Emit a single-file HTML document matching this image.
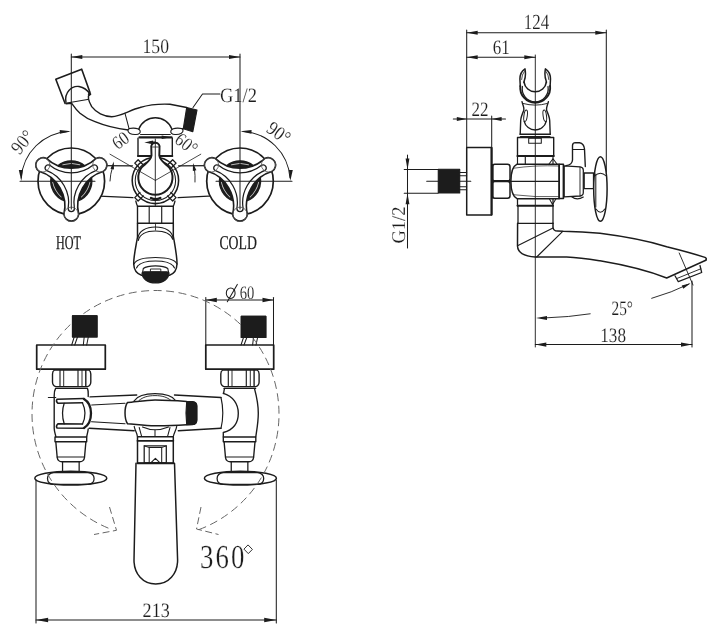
<!DOCTYPE html>
<html><head><meta charset="utf-8"><title>Faucet drawing</title>
<style>
html,body{margin:0;padding:0;background:#fff}
body{width:720px;height:638px;overflow:hidden}
svg{display:block;filter:grayscale(1) blur(0.35px)}
text{font-family:"Liberation Serif",serif;fill:#1c1c1c;-webkit-font-smoothing:antialiased;text-rendering:geometricPrecision}
</style></head><body>
<svg width="720" height="638" viewBox="0 0 720 638" stroke="#1c1c1c" fill="none" stroke-linecap="round" stroke-linejoin="round">
<rect x="0" y="0" width="720" height="638" fill="#fff" stroke="none"/>
<g opacity="0.999">
<defs>
<g id="handle">
<circle cx="0" cy="0" r="33.3" stroke-width="1.7" fill="#fff"/>
<g transform="rotate(0)">
<path d="M-13.5,-15.6 A21,21 0 0 1 13.5,-15.6 A36.3,36.3 0 0 1 -13.5,-15.6 Z" fill="#1c1c1c" stroke-width="1.3"/>
<path d="M-8.5,-16.6 Q0,-19.3 8.5,-16.6" stroke="#ccc" stroke-width="0.9"/>
</g>
<g transform="rotate(120)">
<path d="M-13.5,-15.6 A21,21 0 0 1 13.5,-15.6 A36.3,36.3 0 0 1 -13.5,-15.6 Z" fill="#1c1c1c" stroke-width="1.3"/>
<path d="M-8.5,-16.6 Q0,-19.3 8.5,-16.6" stroke="#ccc" stroke-width="0.9"/>
</g>
<g transform="rotate(240)">
<path d="M-13.5,-15.6 A21,21 0 0 1 13.5,-15.6 A36.3,36.3 0 0 1 -13.5,-15.6 Z" fill="#1c1c1c" stroke-width="1.3"/>
<path d="M-8.5,-16.6 Q0,-19.3 8.5,-16.6" stroke="#ccc" stroke-width="0.9"/>
</g>
<path d="M-24.9,-22.9 A36.3,36.3 0 0 0 24.9,-22.9 A7.4,7.4 0 0 1 32.28,-10.11 A36.3,36.3 0 0 0 7.38,33 A7.4,7.4 0 0 1 -7.38,33 A36.3,36.3 0 0 0 -32.28,-10.11 A7.4,7.4 0 0 1 -24.9,-22.9 Z" fill="#fff" stroke-width="1.6"/>
<path d="M-21.9,-16.2 A34.6,34.6 0 0 0 21.9,-16.2 A3.1,3.1 0 0 1 25,-10.9 A34.6,34.6 0 0 0 3.1,27.1 A3.1,3.1 0 0 1 -3.1,27.1 A34.6,34.6 0 0 0 -25,-10.9 A3.1,3.1 0 0 1 -21.9,-16.2 Z" stroke-width="1.25"/>
<circle cx="-28.58" cy="-16.50" r="7.2" fill="none" stroke="#555" stroke-width="0.8"/>
<circle cx="28.58" cy="-16.50" r="7.2" fill="none" stroke="#555" stroke-width="0.8"/>
<circle cx="0.00" cy="33.00" r="7.2" fill="none" stroke="#555" stroke-width="0.8"/>
</g>
</defs>
<line x1="100" y1="165.6" x2="132.5" y2="165.8" stroke-width="1.26" />
<line x1="88" y1="195.6" x2="133" y2="197.6" stroke-width="1.26" />
<line x1="178.5" y1="165.8" x2="212" y2="165.6" stroke-width="1.26" />
<line x1="178" y1="197.6" x2="224" y2="195.4" stroke-width="1.26" />
<use href="#handle" x="71.3" y="181.3"/>
<use href="#handle" x="240" y="181.3"/>
<path d="M89.7,93.7 C87.5,96 88.5,101 91.7,106.7 C96,112.5 104,116.5 111.7,116.7 C121,116.5 130,110 140,107.5 C150,104.6 160,103.8 170,104.3 L186.7,107.5" stroke-width="1.38" fill="none" />
<path d="M66,103.8 L71.7,103.3 C75,108 77,110.5 80,113.3 C85,117.5 90,120 95,121.7 C103,125 115,128.5 128.3,130" stroke-width="1.38" fill="none" />
<line x1="125" y1="113.3" x2="129.2" y2="129.2" stroke-width="1.03" />
<path d="M174.5,130 L183.3,128.7" stroke-width="1.38" fill="none" />
<path d="M186.7,107.5 L197,110 L192.8,131.7 L183.3,128.7 Z" stroke-width="1.15" fill="#1c1c1c" />
<path d="M65,103.3 L55.8,79.2 L81.7,69.2 L90,92.5" stroke-width="1.61" fill="none" />
<path d="M66,102.5 C64,92 72,85.5 79,86.5 C84,87.5 88,91 89.7,93.7" stroke-width="1.38" fill="none" />
<path d="M67,103 L87.5,99.5" stroke-width="1.26" fill="none" />
<circle cx="89.5" cy="94.2" r="1.2" stroke-width="0.92" fill="#1c1c1c" />
<path d="M138.7,129.2 A17.8,17.8 0 0 1 172,129.2" stroke-width="1.38" fill="none" />
<path d="M128,130 C129,127.5 138,127.5 140,130.5 C141,133 139,134.5 136,134.5 C131,134.8 127.5,133 128,130 Z" stroke-width="1.15" fill="#fff" />
<path d="M183,130 C182,127.5 173,127.5 171,130.5 C170,133 172,134.5 175,134.5 C180,134.8 183.5,133 183,130 Z" stroke-width="1.15" fill="#fff" />
<line x1="140.5" y1="134.6" x2="170.3" y2="134.6" stroke-width="1.03" />
<line x1="139.5" y1="137.4" x2="171.5" y2="137.4" stroke-width="2.30" />
<path d="M138,138.3 L138,156 L172.3,156 L172.3,138.3" stroke-width="1.38" fill="none" />
<line x1="138" y1="156" x2="172.3" y2="156" stroke-width="2.07" />
<polygon points="144.30,142.40 153.10,140.48 153.10,144.32" fill="#1c1c1c" stroke="none"/>
<line x1="150" y1="142.4" x2="155" y2="142.4" stroke-width="1.84" />
<polygon points="170.50,137.20 161.70,138.88 161.70,135.52" fill="#1c1c1c" stroke="none"/>
<circle cx="155.4" cy="180.4" r="23.2" stroke-width="1.55" fill="none" />
<circle cx="155.4" cy="180.4" r="20.2" stroke-width="1.03" fill="none" />
<path d="M170.89,192.49 L176.05,197.65 L172.65,201.05 L167.49,195.89" stroke-width="1.32" fill="none" />
<path d="M143.31,195.89 L138.15,201.05 L134.75,197.65 L139.91,192.49" stroke-width="1.32" fill="none" />
<path d="M139.91,168.31 L134.75,163.15 L138.15,159.75 L143.31,164.91" stroke-width="1.32" fill="none" />
<path d="M167.49,164.91 L172.65,159.75 L176.05,163.15 L170.89,168.31" stroke-width="1.32" fill="none" />
<path d="M151.3,148.3 A4.3,4.3 0 1 1 159.5,148.3 L159.3,155.5 C159.8,160.5 164.5,163 169,167.2 A17.1,17.1 0 1 1 141.8,167.2 C146.3,163 151,160.5 151.5,155.5 Z" stroke-width="1.95" fill="#fff" />
<line x1="152" y1="147" x2="158.6" y2="147" stroke-width="0.80" />
<line x1="110" y1="154.2" x2="155.4" y2="180.4" stroke-width="0.80" />
<line x1="200.8" y1="154.2" x2="155.4" y2="180.4" stroke-width="0.80" />
<path d="M151,198 Q155.5,200.5 160.3,198" stroke-width="2.53" fill="none" />
<line x1="155.3" y1="139" x2="155.3" y2="206" stroke-width="0.92" />
<polygon points="113.80,161.50 113.96,169.41 110.44,168.66" fill="#1c1c1c" stroke="none"/>
<path d="M112.3,168 Q110.3,174 110,181" stroke-width="0.92" fill="none" />
<polygon points="193.00,163.00 196.36,170.16 192.84,170.91" fill="#1c1c1c" stroke="none"/>
<path d="M194.5,169.5 Q195.3,175 195,182" stroke-width="0.92" fill="none" />
<path d="M135.8,201 Q136.5,204 137.5,206.3 M175,201 Q174.3,204 173.3,206.3" stroke-width="1.26" fill="none" />
<rect x="137.5" y="206.3" width="35.80" height="17.00" rx="0" stroke-width="1.38" fill="none" />
<line x1="149.2" y1="206.3" x2="149.2" y2="223.3" stroke-width="1.15" />
<line x1="161.7" y1="206.3" x2="161.7" y2="223.3" stroke-width="1.15" />
<path d="M137.5,223.3 L137.5,237 C136,246 133.7,256 133.7,263.3 C133.7,270 136.5,273.5 141.5,275.3" stroke-width="1.49" fill="none" />
<path d="M173.3,223.3 L173.3,236 C175,246 177,256 177,263.3 C177,270 174.5,273.5 169.5,275.3" stroke-width="1.49" fill="none" />
<path d="M137.8,238.5 C138.5,231 146,227 155.5,227 C165,227 172.5,231 173.2,238.5" stroke-width="1.15" fill="none" />
<path d="M138.2,240.5 C140,234 147,231 155.5,231 C164,231 171,234 173,239.5" stroke-width="1.15" fill="none" />
<line x1="155.5" y1="223.3" x2="155.5" y2="230" stroke-width="0.80" />
<path d="M134,264 C136,259.5 145,257.5 155.5,257.5 C166,257.5 175,259.5 177,264" stroke-width="1.15" fill="none" />
<path d="M136.5,268 C138.5,263 146,261 155.5,261 C165,261 172.5,263 174.5,268" stroke-width="1.15" fill="none" />
<path d="M142.5,273 L143.3,268.5 C146,266.3 151,265.8 155.5,265.8 C160,265.8 165,266.3 167.8,268.5 L168.7,273" stroke-width="1.15" fill="none" />
<rect x="150.8" y="269" width="10.00" height="3.00" rx="0" stroke-width="0.92" fill="none" />
<path d="M142,273 C142,271.5 146,271.8 155.5,271.8 C165,271.8 169,271.5 169,273 C169,279 163,283 155.5,283 C148,283 142,279 142,273 Z" stroke-width="1.15" fill="#1c1c1c" />
<line x1="71.3" y1="54" x2="71.3" y2="209" stroke-width="1.03" />
<line x1="240" y1="54" x2="240" y2="209" stroke-width="1.03" />
<line x1="71.3" y1="57" x2="240" y2="57" stroke-width="1.03" />
<polygon points="71.30,57.00 82.30,54.96 82.30,59.04" fill="#1c1c1c" stroke="none"/>
<polygon points="240.00,57.00 229.00,59.04 229.00,54.96" fill="#1c1c1c" stroke="none"/>
<text x="142.5" y="53" font-size="20.5" textLength="26.5" lengthAdjust="spacingAndGlyphs" text-anchor="start" stroke="#fff" stroke-width="0.15" paint-order="fill stroke" >150</text>
<line x1="20" y1="181.3" x2="95" y2="181.3" stroke-width="1.03" />
<line x1="216" y1="181.3" x2="292" y2="181.3" stroke-width="1.03" />
<path d="M68.5,131.4 A50,50 0 0 0 21.3,178" stroke-width="1.03" fill="none" />
<polygon points="70.80,131.30 59.92,133.79 59.71,129.96" fill="#1c1c1c" stroke="none"/>
<polygon points="21.30,181.00 18.81,170.12 22.64,169.91" fill="#1c1c1c" stroke="none"/>
<path d="M242.8,131.4 A50,50 0 0 1 290,178" stroke-width="1.03" fill="none" />
<polygon points="240.50,131.30 251.59,129.96 251.38,133.79" fill="#1c1c1c" stroke="none"/>
<polygon points="290.30,181.00 288.96,169.91 292.79,170.12" fill="#1c1c1c" stroke="none"/>
<text x="23.5" y="148" font-size="19.5" transform="rotate(-50 23.5 143)" text-anchor="middle" stroke="#fff" stroke-width="0.15" paint-order="fill stroke" textLength="24" lengthAdjust="spacingAndGlyphs">90°</text>
<text x="278" y="139" font-size="19.5" transform="rotate(36 278 134)" text-anchor="middle" stroke="#fff" stroke-width="0.15" paint-order="fill stroke" textLength="24" lengthAdjust="spacingAndGlyphs">90°</text>
<text x="121" y="146.5" font-size="19" transform="rotate(-36 121 141)" text-anchor="middle" stroke="#fff" stroke-width="0.15" paint-order="fill stroke" textLength="16" lengthAdjust="spacingAndGlyphs">60</text>
<text x="186" y="150" font-size="19" transform="rotate(38 186 144.5)" text-anchor="middle" stroke="#fff" stroke-width="0.15" paint-order="fill stroke" textLength="23" lengthAdjust="spacingAndGlyphs">60°</text>
<path d="M193,107.5 L202.5,94 L220,94" stroke-width="1.03" fill="none" />
<text x="220" y="102" font-size="20.5" textLength="37" lengthAdjust="spacingAndGlyphs" text-anchor="start" stroke="#fff" stroke-width="0.15" paint-order="fill stroke" >G1/2</text>
<text x="56" y="249" font-size="19.5" textLength="25" lengthAdjust="spacingAndGlyphs" text-anchor="start" stroke="#fff" stroke-width="0.15" paint-order="fill stroke" style="stroke:#1c1c1c;stroke-width:0.25">HOT</text>
<text x="219.4" y="249.3" font-size="19.5" textLength="37.5" lengthAdjust="spacingAndGlyphs" text-anchor="start" stroke="#fff" stroke-width="0.15" paint-order="fill stroke" style="stroke:#1c1c1c;stroke-width:0.25">COLD</text>
<line x1="466.7" y1="30" x2="466.7" y2="147.5" stroke-width="1.03" />
<line x1="606.3" y1="30" x2="606.3" y2="172" stroke-width="1.03" />
<line x1="466.7" y1="32.7" x2="606.3" y2="32.7" stroke-width="1.03" />
<polygon points="466.70,32.70 477.70,30.66 477.70,34.74" fill="#1c1c1c" stroke="none"/>
<polygon points="606.30,32.70 595.30,34.74 595.30,30.66" fill="#1c1c1c" stroke="none"/>
<text x="523.8" y="29.3" font-size="21.5" textLength="25.4" lengthAdjust="spacingAndGlyphs" text-anchor="start" stroke="#fff" stroke-width="0.15" paint-order="fill stroke" >124</text>
<line x1="466.7" y1="57.2" x2="535.3" y2="57.2" stroke-width="1.03" />
<polygon points="466.70,57.20 477.70,55.16 477.70,59.24" fill="#1c1c1c" stroke="none"/>
<polygon points="535.30,57.20 524.30,59.24 524.30,55.16" fill="#1c1c1c" stroke="none"/>
<text x="492.8" y="53.6" font-size="20.5" textLength="17" lengthAdjust="spacingAndGlyphs" text-anchor="start" stroke="#fff" stroke-width="0.15" paint-order="fill stroke" >61</text>
<line x1="491.7" y1="116" x2="491.7" y2="147.5" stroke-width="1.03" />
<line x1="453.3" y1="119" x2="505.5" y2="119" stroke-width="1.03" />
<polygon points="466.70,119.00 456.80,120.92 456.80,117.08" fill="#1c1c1c" stroke="none"/>
<polygon points="491.70,119.00 501.60,117.08 501.60,120.92" fill="#1c1c1c" stroke="none"/>
<text x="471.4" y="115.6" font-size="20.5" textLength="17" lengthAdjust="spacingAndGlyphs" text-anchor="start" stroke="#fff" stroke-width="0.15" paint-order="fill stroke" >22</text>
<rect x="466.7" y="147.5" width="25.00" height="67.50" rx="0" stroke-width="1.49" fill="#fff" />
<line x1="491.5" y1="148" x2="491.5" y2="214.5" stroke-width="2.07" />
<rect x="438.3" y="169.2" width="21.40" height="23.80" rx="0" stroke-width="1.15" fill="#1c1c1c" />
<line x1="459.7" y1="172.5" x2="466.7" y2="172.5" stroke-width="1.03" />
<line x1="459.7" y1="175.8" x2="466.7" y2="175.8" stroke-width="1.03" />
<line x1="459.7" y1="186.7" x2="466.7" y2="186.7" stroke-width="1.03" />
<line x1="459.7" y1="189.7" x2="466.7" y2="189.7" stroke-width="1.03" />
<line x1="426.7" y1="181.2" x2="470.8" y2="181.2" stroke-width="1.03" />
<line x1="404.2" y1="169.5" x2="438" y2="169.5" stroke-width="1.03" />
<line x1="404.2" y1="193.3" x2="438" y2="193.3" stroke-width="1.03" />
<line x1="407.5" y1="155" x2="407.5" y2="248" stroke-width="1.03" />
<polygon points="407.50,169.50 405.58,158.50 409.42,158.50" fill="#1c1c1c" stroke="none"/>
<polygon points="407.50,193.30 409.42,204.30 405.58,204.30" fill="#1c1c1c" stroke="none"/>
<text x="0" y="0" font-size="19.5" textLength="37" lengthAdjust="spacingAndGlyphs" transform="translate(405.4 243.6) rotate(-90)" text-anchor="start" stroke="#fff" stroke-width="0.15" paint-order="fill stroke" x="0" y="0">G1/2</text>
<rect x="492.3" y="164.2" width="17.70" height="17.00" rx="2.5" stroke-width="1.49" fill="#fff" />
<rect x="492.3" y="181.2" width="17.70" height="17.10" rx="2.5" stroke-width="1.49" fill="#fff" />
<line x1="492.5" y1="181.2" x2="510" y2="181.2" stroke-width="2.30" />
<line x1="492.6" y1="165" x2="492.6" y2="197.5" stroke-width="2.07" />
<rect x="517.5" y="137.5" width="36.20" height="18.80" rx="0" stroke-width="1.38" fill="#fff" />
<line x1="517.5" y1="156" x2="553.7" y2="156" stroke-width="2.07" />
<rect x="528.7" y="138.2" width="12.60" height="5.10" rx="0" stroke-width="1.03" fill="none" />
<path d="M517.5,156.3 L517.5,165 M553,156.3 L553,164.2 M525.3,156.3 L525.3,164.2" stroke-width="1.15" fill="none" />
<path d="M549,164 L553,158.8 L557,164" stroke-width="1.03" fill="none" />
<path d="M517,164.2 L559.2,164.2 L559.2,198.7 L517,198.7 C512.5,196.5 510.9,190 510.9,181.3 C510.9,173 512.5,166.5 517,164.2 Z" stroke-width="1.49" fill="#fff" />
<line x1="511" y1="181.3" x2="559.2" y2="181.3" stroke-width="1.26" />
<path d="M513,168.3 Q535,165 559,166" stroke-width="0.69" fill="none" />
<path d="M513,194.7 Q535,197.5 559,196.6" stroke-width="0.69" fill="none" />
<rect x="559.2" y="164.2" width="4.20" height="34.30" rx="0" stroke-width="1.61" fill="#fff" />
<path d="M564.2,165.8 L580,166.8 Q583.3,167.3 583.3,170 L583.3,192.5 Q583.3,195.6 580,196 L564.2,196.8 Z" stroke-width="1.26" fill="#fff" />
<line x1="580" y1="167" x2="580" y2="196" stroke-width="0.92" />
<path d="M566,165.6 C571,165 572.3,163 572.5,160 L572.5,145.5 Q572.5,142.6 575.5,142.6 L579.5,142.7 Q584,143.5 584.5,149 L585.3,166.5" stroke-width="1.38" fill="none" />
<line x1="572.7" y1="149.4" x2="584.3" y2="149.4" stroke-width="1.03" />
<path d="M571.7,196.7 Q577,201 583.3,197" stroke-width="1.15" fill="none" />
<rect x="584.2" y="173" width="9.30" height="15.70" rx="0" stroke-width="1.26" fill="#fff" />
<ellipse cx="600.4" cy="189" rx="6.7" ry="32.3" stroke-width="1.49" fill="#fff" />
<path d="M594.6,176 Q600.4,170.5 606.2,176" stroke-width="1.03" fill="none" />
<path d="M596,209 Q600.4,215.5 604.8,209" stroke-width="1.03" fill="none" />
<path d="M595.8,174 L595.8,207" stroke-width="1.03" fill="none" />
<path d="M517.5,198.7 L517.5,205.8 M553,198.7 L553,205.8" stroke-width="1.26" fill="none" />
<line x1="517.5" y1="205.8" x2="553" y2="205.8" stroke-width="1.95" />
<path d="M518,205.8 L518,223.3 M553,205.8 L553,223.3" stroke-width="1.26" fill="none" />
<line x1="518" y1="223.3" x2="553" y2="223.3" stroke-width="1.15" />
<path d="M549.5,199 L552.5,204.5 L556,198.8" stroke-width="1.03" fill="none" />
<path d="M517.6,223.3 L517.5,246 C517.8,252.5 524,256.3 535.3,257 L566.7,257 C580,257.5 592,259.5 600,260.8 C625,265 650,271.5 666.7,278 L705.8,260.3" stroke-width="1.49" fill="none" />
<path d="M553,223.3 L553,227.5 C553.3,230 555,231 557.5,231 L563.3,231.3 C578,231.5 590,232.3 600,233.3 C625,236.5 650,241.5 666.7,246.7 C680,250 695,254 705,257.4 Q707.2,258.5 705.8,260.3" stroke-width="1.49" fill="none" />
<line x1="517.5" y1="245.8" x2="553" y2="228" stroke-width="1.15" />
<line x1="536.7" y1="257" x2="562.5" y2="231.7" stroke-width="1.15" />
<path d="M675,275.8 L678.3,281.7 L701.7,272.5 L700,265.5" stroke-width="1.26" fill="none" />
<line x1="676.6" y1="278.6" x2="700.8" y2="268.8" stroke-width="0.92" />
<line x1="679.2" y1="253" x2="693" y2="285" stroke-width="0.92" />
<line x1="692" y1="281" x2="692" y2="347" stroke-width="1.03" />
<path d="M651.7,298.3 Q672,292.5 689,284" stroke-width="0.92" fill="none" />
<polygon points="690.50,283.30 683.29,288.65 681.76,285.39" fill="#1c1c1c" stroke="none"/>
<path d="M547,317.8 Q568,317.2 590.2,313.8" stroke-width="0.92" fill="none" />
<polygon points="536.00,318.00 547.00,316.08 547.00,319.92" fill="#1c1c1c" stroke="none"/>
<text x="611.5" y="315" font-size="20.5" textLength="21.5" lengthAdjust="spacingAndGlyphs" text-anchor="start" stroke="#fff" stroke-width="0.15" paint-order="fill stroke" >25°</text>
<line x1="535.3" y1="344.6" x2="692" y2="344.6" stroke-width="1.03" />
<polygon points="535.30,344.60 546.30,342.56 546.30,346.64" fill="#1c1c1c" stroke="none"/>
<polygon points="692.00,344.60 681.00,346.64 681.00,342.56" fill="#1c1c1c" stroke="none"/>
<text x="600.3" y="342.2" font-size="20.5" textLength="25.7" lengthAdjust="spacingAndGlyphs" text-anchor="start" stroke="#fff" stroke-width="0.15" paint-order="fill stroke" >138</text>
<path d="M520,134.2 L550.4,134.2 M520.5,136.6 L549.9,136.6" stroke-width="1.38" fill="none" />
<path d="M520.3,86 A15,15 0 1 0 550.1,86" stroke-width="1.84" fill="none" />
<path d="M522.4,86.5 A13,13 0 1 0 548,86.5" stroke-width="1.26" fill="none" />
<path d="M520.3,86.5 L519.9,79 C519.9,75.5 521.5,71 525,68.8 C525.8,73 525.3,78 524.2,81 L524,82.5" stroke-width="1.49" fill="none" />
<path d="M550.1,86.5 L550.5,79 C550.5,75.5 548.9,71 545.4,68.8 C544.6,73 545.1,78 546.2,81 L546.4,82.5" stroke-width="1.49" fill="none" />
<path d="M521.6,79.5 Q521.8,74.5 524.3,71.5" stroke-width="0.80" fill="none" />
<path d="M548.8,79.5 Q548.6,74.5 546.1,71.5" stroke-width="0.80" fill="none" />
<path d="M524,82 A11.3,11.3 0 0 0 546.4,82" stroke-width="1.61" fill="none" />
<path d="M522,101.6 C523,106 524.6,108 523.8,110.4 C522,114.5 520.8,118 520.7,120.5 L520.2,134" stroke-width="1.38" fill="none" />
<path d="M548.4,101.6 C547.4,106 545.8,108 546.6,110.4 C548.4,114.5 549.6,118 549.7,120.5 L550.2,134" stroke-width="1.38" fill="none" />
<ellipse cx="525.6" cy="115.8" rx="1.7" ry="5.8" stroke-width="1.0" transform="rotate(8 525.6 115.8)"/>
<ellipse cx="544.8" cy="115.8" rx="1.7" ry="5.8" stroke-width="1.0" transform="rotate(-8 544.8 115.8)"/>
<path d="M524.2,121.3 A11.3,11.3 0 0 0 546.2,121.3" stroke-width="1.38" fill="none" />
<path d="M523.2,103.5 Q535.2,106.8 547.2,103.5" stroke-width="0.92" fill="none" />
<line x1="535.3" y1="55" x2="535.3" y2="347" stroke-width="0.92" />
<g id="bl">
<rect x="36.7" y="345" width="68.60" height="24.20" rx="0" stroke-width="1.72" fill="#fff" />
<rect x="205.8" y="345" width="67.90" height="24.20" rx="0" stroke-width="1.72" fill="#fff" />
<rect x="72.5" y="315.8" width="24.50" height="21.20" rx="0" stroke-width="1.15" fill="#1c1c1c" />
<rect x="241.3" y="316.3" width="24.50" height="21.20" rx="0" stroke-width="1.15" fill="#1c1c1c" />
<line x1="74.2" y1="337" x2="71.7" y2="345" stroke-width="1.03" />
<line x1="77.5" y1="337" x2="74.7" y2="345" stroke-width="1.03" />
<line x1="84.2" y1="337" x2="83.3" y2="345" stroke-width="1.03" />
<line x1="88.3" y1="337" x2="86.7" y2="345" stroke-width="1.03" />
<line x1="243.5" y1="337.5" x2="241" y2="345" stroke-width="1.03" />
<line x1="246.8" y1="337.5" x2="244" y2="345" stroke-width="1.03" />
<line x1="253.5" y1="337.5" x2="252.6" y2="345" stroke-width="1.03" />
<line x1="257.6" y1="337.5" x2="256" y2="345" stroke-width="1.03" />
<path d="M54.5,370 L88.8,370 Q90.8,371 90.8,374 L90.8,382 Q90.8,385.5 87.5,386.7 L55.8,386.7 Q52.5,385.5 52.5,382 L52.5,374 Q52.5,371 54.5,370 Z" stroke-width="1.38" fill="#fff" />
<line x1="60.0" y1="370.5" x2="60.0" y2="386" stroke-width="1.15" />
<line x1="63.7" y1="370.5" x2="63.7" y2="386" stroke-width="0.92" />
<line x1="78.0" y1="370.5" x2="78.0" y2="386" stroke-width="1.15" />
<line x1="82.0" y1="370.5" x2="82.0" y2="386" stroke-width="0.92" />
<line x1="85.8" y1="370.5" x2="85.8" y2="386" stroke-width="1.38" />
<path d="M55.5,388.6 L87.5,388.6" stroke-width="1.03" fill="none" />
<path d="M222.8,370 L257.1,370 Q259.1,371 259.1,374 L259.1,382 Q259.1,385.5 255.8,386.7 L224.10000000000002,386.7 Q220.8,385.5 220.8,382 L220.8,374 Q220.8,371 222.8,370 Z" stroke-width="1.38" fill="#fff" />
<line x1="228.3" y1="370.5" x2="228.3" y2="386" stroke-width="1.15" />
<line x1="232.0" y1="370.5" x2="232.0" y2="386" stroke-width="0.92" />
<line x1="246.3" y1="370.5" x2="246.3" y2="386" stroke-width="1.15" />
<line x1="250.3" y1="370.5" x2="250.3" y2="386" stroke-width="0.92" />
<line x1="254.10000000000002" y1="370.5" x2="254.10000000000002" y2="386" stroke-width="1.38" />
<path d="M223.8,388.6 L255.8,388.6" stroke-width="1.03" fill="none" />
<path d="M90,396.9 L136.7,395 M174.5,395 L221,397.5" stroke-width="1.38" fill="none" />
<path d="M91.7,405 L125,403.3" stroke-width="1.15" fill="none" />
<path d="M91.7,421.7 L125,423.7" stroke-width="1.15" fill="none" />
<path d="M89.2,428.3 L134.2,430.8 M178.3,430.8 L221,428.3" stroke-width="1.38" fill="none" />
<path d="M134,401 C137,396.5 145,393.7 155,393.7 C165,393.7 173,396.5 176,401" stroke-width="1.26" fill="none" />
<path d="M139,400.5 C143,397 148,395.6 155,395.6 C162,395.6 167,397 171,400.5" stroke-width="0.92" fill="none" />
<path d="M127.5,402.5 C135,402 145,400.2 155,400 C165,400 178,400.8 186.7,401.5 L192.5,401.7 Q196.7,402 196.7,406 L196.7,420 Q196.7,424.3 192.5,424.5 L186.7,424.7 C178,425.3 165,425.9 155,425.8 C145,425.6 135,424.2 127.5,423.7 C124.2,419 124.2,407 127.5,402.5 Z" stroke-width="1.49" fill="#fff" />
<path d="M186.7,401.6 L192.5,401.7 Q196.7,402 196.7,406 L196.7,420 Q196.7,424.3 192.5,424.5 L186.7,424.7 Q185.3,413 186.7,401.6 Z" stroke-width="1.15" fill="#1c1c1c" />
<path d="M134.2,426.5 C135,430.5 137,432.5 137.5,436.7 M176.7,426.5 C176,430.5 174,432.5 173.3,436.7" stroke-width="1.26" fill="none" />
<path d="M142.5,427 Q155,432.5 168.5,427" stroke-width="1.15" fill="none" />
<path d="M139.2,427.5 L141.7,436.7 M170,427.5 L167.5,436.7 M155,430 L155,436.7" stroke-width="1.03" fill="none" />
<rect x="137.5" y="436.7" width="35.80" height="26.60" rx="0" stroke-width="1.49" fill="#fff" />
<line x1="137.5" y1="440.8" x2="173.3" y2="440.8" stroke-width="1.84" />
<rect x="144.2" y="445.8" width="22.10" height="17.00" rx="0" stroke-width="1.26" fill="none" />
<rect x="149.2" y="447.6" width="12.50" height="15.20" rx="0" stroke-width="1.03" fill="none" />
<path d="M144.2,445.8 L149.2,447.6 M166.3,445.8 L161.7,447.6" stroke-width="0.92" fill="none" />
<path d="M150.8,462.8 L155.4,458.3 L160,462.8" stroke-width="1.15" fill="none" />
<line x1="137.5" y1="463.3" x2="173.3" y2="463.3" stroke-width="2.07" />
<path d="M136,463.3 L134,560 C134,574 143,584 155.7,584 C168.5,584 177.6,574 177.6,560 L174.5,463.3" stroke-width="1.49" fill="none" />
<path d="M55.5,388.6 C54,391 54.2,394 54.2,396.7 L54.2,428.3 C54.3,432 55.5,434 55.8,436.7" stroke-width="1.38" fill="none" />
<path d="M87.5,388.6 C88.6,391 88.3,393 88.2,396.5" stroke-width="1.38" fill="none" />
<path d="M88.2,429 C88,432 87,434.5 86.7,436.7" stroke-width="1.38" fill="none" />
<line x1="48.3" y1="397.5" x2="55.8" y2="397.5" stroke-width="1.03" />
<path d="M84,399 C89,402 91,407 91,413.3 C91,420 89,425 84,428" stroke-width="2.30" fill="none" />
<path d="M57,399.2 L84,398.5 M58,403.3 L82.5,402.8 M57,399.2 Q55.5,401.5 58,403.3" stroke-width="1.49" fill="none" />
<path d="M57,428 L84,428.3 M58,423.8 L82.5,424 M57,428 Q55.5,426 58,423.8" stroke-width="1.49" fill="none" />
<path d="M64.2,403.3 Q60.8,413.3 64.2,423.8" stroke-width="1.26" fill="none" />
<path d="M82.5,403 Q87.5,413.3 82.5,424" stroke-width="1.26" fill="none" />
<path d="M224.5,388.6 C223.8,391 224,392 223.5,393.5" stroke-width="1.38" fill="none" />
<path d="M254.5,388.6 C256.5,396 258.3,405 258.3,413.3 C258.3,422 256.8,430 255.8,436.7" stroke-width="1.38" fill="none" />
<path d="M223.3,393.3 C233,396 238.3,404 238.3,413.3 C238.3,423 233,430 223.3,432.5 L223.3,437" stroke-width="1.38" fill="none" />
<path d="M221,397.5 Q224.6,413 221,428.3" stroke-width="1.15" fill="none" />
<path d="M55,437 L86.7,437 M55,441.7 L86.7,441.7 M55,437 L55,441.7 M86.7,437 L86.7,441.7" stroke-width="1.38" fill="none" />
<path d="M55.8,441.7 L57.2,457.5 Q57.8,461.7 62,461.7 L79.7,461.7 Q83.9,461.7 84.5,457.5 L85.9,441.7" stroke-width="1.38" fill="none" />
<line x1="57.2" y1="457" x2="84.5" y2="457" stroke-width="1.03" />
<path d="M62.55,462 L62.55,471.7 M79.14999999999999,462 L79.14999999999999,471.7" stroke-width="1.26" fill="none" />
<path d="M223.3,437 L255.8,437 M223.3,441.7 L255.8,441.7 M223.3,437 L223.3,441.7 M255.8,437 L255.8,441.7" stroke-width="1.38" fill="none" />
<path d="M224.10000000000002,441.7 L225.5,457.5 Q226.10000000000002,461.7 230.3,461.7 L248.8,461.7 Q253.0,461.7 253.60000000000002,457.5 L255.0,441.7" stroke-width="1.38" fill="none" />
<line x1="225.5" y1="457" x2="253.60000000000002" y2="457" stroke-width="1.03" />
<path d="M231.25,462 L231.25,471.7 M247.85000000000002,462 L247.85000000000002,471.7" stroke-width="1.26" fill="none" />
<ellipse cx="70.8" cy="478.2" rx="36" ry="6.9" stroke-width="1.49" fill="#fff" />
<path d="M53.8,472.6 L87.8,472.6 Q94.1,473.3 94.1,478.5 Q94.1,484 87.8,484.3 L53.8,484.3 Q47.5,484 47.5,478.5 Q47.5,473.3 53.8,472.6 Z" stroke-width="1.26" fill="none" />
<ellipse cx="240.4" cy="478.2" rx="36" ry="6.9" stroke-width="1.49" fill="#fff" />
<path d="M223.4,472.6 L257.4,472.6 Q263.7,473.3 263.7,478.5 Q263.7,484 257.4,484.3 L223.4,484.3 Q217.1,484 217.1,478.5 Q217.1,473.3 223.4,472.6 Z" stroke-width="1.26" fill="none" />
</g>
<line x1="205.8" y1="297.5" x2="205.8" y2="345" stroke-width="1.03" />
<line x1="273.5" y1="297.5" x2="273.5" y2="345" stroke-width="1.03" />
<line x1="205.8" y1="300" x2="273.5" y2="300" stroke-width="1.03" />
<polygon points="205.80,300.00 216.80,297.84 216.80,302.16" fill="#1c1c1c" stroke="none"/>
<polygon points="273.50,300.00 262.50,302.16 262.50,297.84" fill="#1c1c1c" stroke="none"/>
<text x="239.8" y="299" font-size="19" textLength="14.6" lengthAdjust="spacingAndGlyphs" text-anchor="start" stroke="#fff" stroke-width="0.15" paint-order="fill stroke" >60</text>
<ellipse cx="230.7" cy="293.2" rx="4.4" ry="5.3" stroke-width="1.03" fill="none" />
<line x1="227.3" y1="301.8" x2="237.3" y2="284.4" stroke-width="1.03" />
<line x1="36" y1="480" x2="36" y2="623" stroke-width="1.03" />
<line x1="276.3" y1="480" x2="276.3" y2="623" stroke-width="1.03" />
<line x1="36" y1="620" x2="276.3" y2="620" stroke-width="1.03" />
<polygon points="36.00,620.00 48.10,617.84 48.10,622.16" fill="#1c1c1c" stroke="none"/>
<polygon points="276.30,620.00 264.20,622.16 264.20,617.84" fill="#1c1c1c" stroke="none"/>
<text x="142.6" y="617" font-size="20.5" textLength="27.2" lengthAdjust="spacingAndGlyphs" text-anchor="start" stroke="#fff" stroke-width="0.15" paint-order="fill stroke" >213</text>
<text x="200" y="567.5" font-size="33.5" stroke="#fff" stroke-width="0.3" paint-order="fill stroke" transform="translate(200 0) scale(0.8 1) translate(-200 0)" letter-spacing="2.6">360</text>
<path d="M248.3,545.2 L252.4,549.4 L248.3,553.6 L244.2,549.4 Z" stroke-width="0.9"/>
<path d="M198.75,529.68 A123.5,123.5 0 1 0 112.25,529.68" stroke="#666" stroke-width="1.0" stroke-dasharray="8 4.5" stroke-linecap="butt"/>
<path d="M109.5,507 L116.5,530.3 L94,534.5" stroke="#666" stroke-width="1.0" stroke-dasharray="7 3.5" stroke-linecap="butt"/>
<path d="M201,507 L196.5,529 L218.5,534.5" stroke="#666" stroke-width="1.0" stroke-dasharray="7 3.5" stroke-linecap="butt"/>
<rect x="72.5" y="315.8" width="24.50" height="21.20" rx="0" stroke-width="1.15" fill="#1c1c1c" />
<rect x="241.3" y="316.3" width="24.50" height="21.20" rx="0" stroke-width="1.15" fill="#1c1c1c" />
</g>
</svg>
</body></html>
